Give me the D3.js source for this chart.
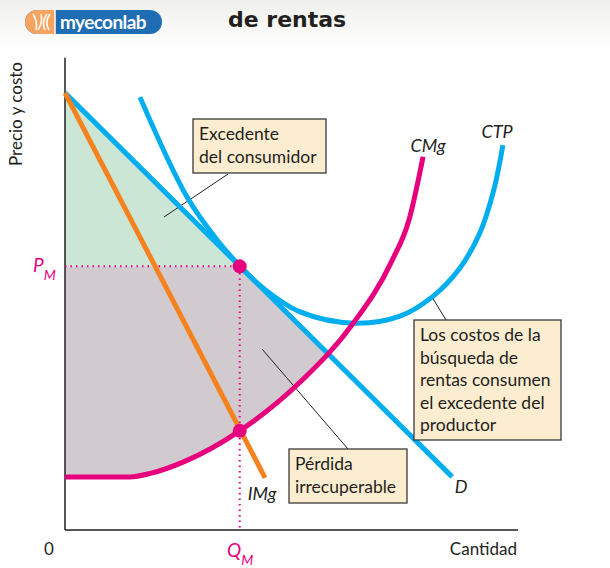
<!DOCTYPE html>
<html>
<head>
<meta charset="utf-8">
<script src="https://cdn.jsdelivr.net/npm/d3@7"></script>
<style>
  body { margin: 0; background: #fff; }
  svg text { font-family: Lato, "DejaVu Sans", sans-serif; fill: #231f20; }
</style>
</head>
<body>
<div id="chart"></div>
<script>
// Curves (quantity, price) in chart units
const demand = [[0, 93], [71.8, 11.3]];
const marginalRevenue = [[0, 93], [37.1, 11.1]];
const marginalCost = [
    [0, 11.3], [12, 11.3], [16, 12.1], [22, 14.5], [32.4, 21.1], [44, 31.9],
    [53.2, 43.6], [60.5, 57], [63.8, 66], [66.4, 79.4]
];
const averageCost = [
    [13.9, 92.1], [22.6, 70.9], [28.2, 61.7], [32.4, 56.2], [36.5, 51.7],
    [43.6, 46.4], [53.8, 44.0], [62.1, 45.5], [68.1, 49.6], [73.2, 55.7],
    [77.0, 63.4], [79.5, 72.3], [81.2, 81.9]
];
const qM = 32.4;
const pM = 56.1;
const mrAtQM = 21.1;

const width = 610, height = 568;
const x = d3.scaleLinear().domain([0, 84]).range([65, 518]);
const y = d3.scaleLinear().domain([0, 100]).range([530, 60]);

const svg = d3.select('#chart').append('svg')
    .attr('width', width)
    .attr('height', height);

// Header band
const defs = svg.append('defs');
const grad = defs.append('linearGradient').attr('id', 'hdr').attr('x1', 0).attr('x2', 0).attr('y1', 0).attr('y2', 1);
grad.append('stop').attr('offset', 0).attr('stop-color', '#efefec');
grad.append('stop').attr('offset', 1).attr('stop-color', '#ffffff');
svg.append('rect').attr('width', width).attr('height', 50).attr('fill', 'url(#hdr)');

// Logo pill
const logo = svg.append('g');
logo.append('rect').attr('x', 25).attr('y', 10).attr('width', 137).attr('height', 24).attr('rx', 12).attr('fill', '#1f6db3');
logo.append('path').attr('d', 'M55,10 L37,10 A12,12 0 0 0 37,34 L55,34 Z').attr('fill', '#f5a35e');
logo.append('line').attr('x1', 55).attr('x2', 55).attr('y1', 10).attr('y2', 34).attr('stroke', '#fff').attr('stroke-width', 1.5);
logo.append('path').attr('d', 'M33,14 Q38,22 36,30 M41,14 Q43,22 38,30 M47,14 Q41,22 45,30 M50,14 Q44,22 49,30')
    .attr('fill', 'none').attr('stroke', '#fff').attr('stroke-width', 1.6);
logo.append('text').attr('x', 60).attr('y', 28.5).text('myeconlab')
    .style('fill', '#fff').style('font-size', '19px').style('font-weight', 'bold').style('letter-spacing', '-0.6px');

svg.append('text').attr('x', 228).attr('y', 27).text('de rentas')
    .style('font-family', '"DejaVu Sans", sans-serif')
    .style('font-size', '22px').style('font-weight', 'bold');

// Shaded areas
const line = d3.line().x(d => x(d[0])).y(d => y(d[1]));
const curve = d3.line().x(d => x(d[0])).y(d => y(d[1])).curve(d3.curveCatmullRom.alpha(0.5));
const mcCurve = d3.line().x(d => x(d[0])).y(d => y(d[1])).curve(d3.curveMonotoneX);

svg.append('path')
    .attr('d', line([[0, demand[0][1]], [qM, pM], [0, pM]]) + 'Z')
    .attr('fill', '#cce6d6');

const cmgEnd = marginalCost[marginalCost.length - 1];
defs.append('clipPath').attr('id', 'aboveCMg').append('path')
    .attr('d', mcCurve(marginalCost) + `L${x(cmgEnd[0])},${y(100)}L${x(0)},${y(100)}Z`);

const dAt = q => demand[0][1] + (demand[1][1] - demand[0][1]) * q / demand[1][0];
svg.append('path')
    .attr('clip-path', 'url(#aboveCMg)')
    .attr('d', line([[0, pM], [qM, pM], [56, dAt(56)], [56, 0], [0, 0]]) + 'Z')
    .attr('fill', '#d1cbd0');

// Axes
svg.append('line').attr('x1', x(0)).attr('x2', x(0)).attr('y1', y(0)).attr('y2', y(100.5))
    .attr('stroke', '#231f20').attr('stroke-width', 1.5);
svg.append('line').attr('x1', x(0)).attr('x2', x(84)).attr('y1', y(0)).attr('y2', y(0))
    .attr('stroke', '#231f20').attr('stroke-width', 1.5);

// Dotted guides
svg.append('path').attr('d', line([[0, pM], [qM, pM], [qM, 0]]))
    .attr('fill', 'none').attr('stroke', '#e6007e').attr('stroke-width', 2).attr('stroke-dasharray', '1.5,4');

// Leader lines
const leaders = [
    [[164, 217], [228, 174]],
    [[262, 349], [348, 449]],
    [[432, 297], [446, 320]]
];
leaders.forEach(l => svg.append('line')
    .attr('x1', l[0][0]).attr('y1', l[0][1]).attr('x2', l[1][0]).attr('y2', l[1][1])
    .attr('stroke', '#231f20').attr('stroke-width', 1));

// Curves
svg.append('path').attr('d', curve(averageCost)).attr('fill', 'none').attr('stroke', '#00aeef').attr('stroke-width', 5);
svg.append('path').attr('d', line(demand)).attr('fill', 'none').attr('stroke', '#00aeef').attr('stroke-width', 5);
svg.append('path').attr('d', mcCurve(marginalCost)).attr('fill', 'none').attr('stroke', '#e6007e').attr('stroke-width', 5);
svg.append('path').attr('d', line(marginalRevenue)).attr('fill', 'none').attr('stroke', '#f5821f').attr('stroke-width', 5);

// Points
[[qM, pM], [qM, mrAtQM]].forEach(p => svg.append('circle')
    .attr('cx', x(p[0])).attr('cy', y(p[1])).attr('r', 7).attr('fill', '#e6007e'));

// Curve labels
const labels = [
    ['CMg', 428, 152],
    ['CTP', 497, 138],
    ['D', 461, 493],
    ['IMg', 262, 500]
];
labels.forEach(l => svg.append('text').attr('x', l[1]).attr('y', l[2]).attr('text-anchor', 'middle')
    .style('font-size', '18px').style('font-style', 'italic').text(l[0]));

// Axis labels
svg.append('text').attr('transform', 'translate(22,114) rotate(-90)').attr('text-anchor', 'middle')
    .style('font-size', '17px').text('Precio y costo');
svg.append('text').attr('x', 517).attr('y', 555).attr('text-anchor', 'end').style('font-size', '17px').text('Cantidad');
svg.append('text').attr('x', 49).attr('y', 555).attr('text-anchor', 'middle').style('font-size', '17px').text('0');

const pmLabel = svg.append('text').attr('x', 33).attr('y', 272).style('font-size', '19px').style('font-style', 'italic').style('fill', '#e6007e');
pmLabel.append('tspan').text('P').style('fill', '#e6007e');
pmLabel.append('tspan').attr('dy', 8).style('font-size', '14px').style('fill', '#e6007e').text('M');
const qmLabel = svg.append('text').attr('x', 227).attr('y', 557).style('font-size', '19px').style('font-style', 'italic').style('fill', '#e6007e');
qmLabel.append('tspan').text('Q').style('fill', '#e6007e');
qmLabel.append('tspan').attr('dy', 8).style('font-size', '14px').style('fill', '#e6007e').text('M');

// Callout boxes
const boxes = [
    { x: 193, y: 119, w: 133, h: 54, lines: ['Excedente', 'del consumidor'] },
    { x: 289, y: 449, w: 118, h: 54, lines: ['Pérdida', 'irrecuperable'] },
    { x: 414, y: 320, w: 147, h: 120, lines: ['Los costos de la', 'búsqueda de', 'rentas consumen', 'el excedente del', 'productor'] }
];
boxes.forEach(b => {
    svg.append('rect').attr('x', b.x).attr('y', b.y).attr('width', b.w).attr('height', b.h)
        .attr('fill', '#fdedd0').attr('stroke', '#3a3a3a').attr('stroke-width', 1.3);
    b.lines.forEach((t, i) => svg.append('text').attr('x', b.x + 6).attr('y', b.y + 21 + i * 22.5)
        .style('font-size', '17.5px').text(t));
});
</script>
</body>
</html>
